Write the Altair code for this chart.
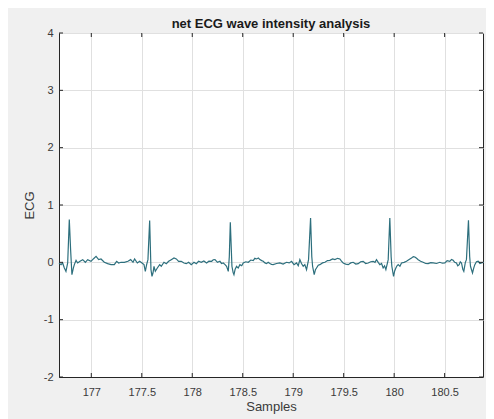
import altair as alt
import pandas as pd

# ECG trace (x in sample units, y = ECG value)
samples = [
    176.680, 176.700, 176.716, 176.733, 176.749, 176.766, 176.782, 176.795, 176.808, 176.822,
    176.832, 176.849, 176.865, 176.888, 176.915, 176.941, 176.964, 176.997, 177.020, 177.047,
    177.073, 177.096, 177.129, 177.162, 177.195, 177.228, 177.251, 177.271, 177.294, 177.327,
    177.363, 177.390, 177.413, 177.429, 177.456, 177.479, 177.502, 177.522, 177.535, 177.548,
    177.561, 177.578, 177.591, 177.601, 177.611, 177.621, 177.634, 177.654, 177.677, 177.693,
    177.720, 177.743, 177.766, 177.792, 177.819, 177.842, 177.865, 177.891, 177.918, 177.941,
    177.964, 177.990, 178.017, 178.040, 178.063, 178.089, 178.115, 178.142, 178.165, 178.192,
    178.208, 178.225, 178.250, 178.274, 178.290, 178.307, 178.325, 178.340, 178.357, 178.367,
    178.377, 178.393, 178.405, 178.413, 178.425, 178.439, 178.455, 178.472, 178.490, 178.505,
    178.530, 178.555, 178.580, 178.604, 178.620, 178.637, 178.655, 178.670, 178.688, 178.703,
    178.720, 178.736, 178.752, 178.769, 178.785, 178.802, 178.835, 178.868, 178.900, 178.934,
    178.960, 178.984, 179.008, 179.033, 179.050, 179.066, 179.082, 179.099, 179.115, 179.132,
    179.152, 179.172, 179.184, 179.192, 179.208, 179.220, 179.231, 179.248, 179.264, 179.290,
    179.314, 179.340, 179.363, 179.390, 179.413, 179.440, 179.462, 179.478, 179.495, 179.520,
    179.545, 179.570, 179.594, 179.620, 179.644, 179.668, 179.693, 179.718, 179.743, 179.768,
    179.792, 179.810, 179.825, 179.842, 179.858, 179.875, 179.891, 179.905, 179.918, 179.941,
    179.957, 179.970, 179.977, 179.994, 180.005, 180.017, 180.028, 180.040, 180.057, 180.073,
    180.098, 180.122, 180.148, 180.172, 180.190, 180.205, 180.222, 180.238, 180.262, 180.287,
    180.312, 180.337, 180.362, 180.386, 180.420, 180.452, 180.478, 180.502, 180.525, 180.551,
    180.568, 180.584, 180.600, 180.617, 180.630, 180.644, 180.655, 180.667, 180.680, 180.690,
    180.705, 180.716, 180.736, 180.748, 180.756, 180.776, 180.788, 180.799, 180.815, 180.832,
    180.850, 180.865, 180.888,
]
ecg = [
    -0.011, -0.040, -0.011, -0.098, -0.157, -0.011, 0.745, 0.221, -0.215, -0.100,
    -0.040, 0.035, -0.011, 0.018, 0.047, 0.001, 0.047, 0.018, 0.059, 0.104,
    0.047, 0.059, 0.001, -0.023, -0.040, -0.040, 0.018, -0.011, 0.001, 0.001,
    0.018, 0.047, 0.001, 0.059, -0.011, 0.018, -0.011, -0.040, -0.157, -0.040,
    0.047, 0.730, -0.128, -0.244, -0.186, -0.069, -0.157, -0.098, -0.040, -0.069,
    0.001, -0.023, 0.018, 0.047, 0.076, 0.059, 0.018, 0.018, -0.011, -0.023,
    0.001, -0.040, 0.001, -0.023, 0.018, 0.001, 0.025, -0.011, 0.020, 0.018,
    0.045, 0.047, 0.000, 0.018, -0.020, -0.011, -0.040, -0.069, -0.157, 0.100,
    0.699, -0.069, -0.180, -0.215, -0.120, -0.069, -0.100, -0.040, -0.060, -0.011,
    0.010, 0.001, 0.040, 0.030, 0.070, 0.059, 0.075, 0.047, 0.030, 0.018,
    -0.010, -0.023, 0.000, -0.020, -0.035, -0.040, -0.020, -0.011, -0.030, 0.001,
    -0.010, 0.018, -0.040, -0.011, -0.060, 0.047, -0.020, -0.069, -0.040, -0.127,
    0.047, 0.774, 0.100, -0.069, -0.215, -0.130, -0.098, -0.050, -0.040, -0.010,
    0.001, 0.030, 0.035, 0.060, 0.047, 0.070, 0.059, 0.020, -0.011, -0.030,
    -0.040, -0.010, 0.001, -0.030, -0.023, 0.010, 0.018, -0.020, -0.011, 0.010,
    0.018, 0.000, 0.047, 0.000, -0.040, -0.020, -0.098, -0.060, -0.127, 0.047,
    0.774, 0.100, -0.069, -0.244, -0.150, -0.098, -0.060, -0.040, -0.070, -0.011,
    0.000, 0.018, 0.050, 0.076, 0.100, 0.094, 0.070, 0.047, 0.020, 0.001,
    -0.020, -0.023, -0.005, -0.011, -0.020, 0.001, -0.015, -0.011, 0.030, 0.018,
    0.050, 0.035, 0.000, -0.011, -0.060, -0.040, 0.010, -0.011, -0.120, -0.157,
    0.000, 0.047, 0.734, 0.100, -0.069, -0.186, -0.100, -0.040, 0.010, 0.018,
    -0.020, -0.011, 0.001,
]

x_ticks = [177, 177.5, 178, 178.5, 179, 179.5, 180, 180.5]
y_ticks = [-2, -1, 0, 1, 2, 3, 4]
x_domain = [176.68, 180.88]
y_domain = [-2, 4]

df = pd.DataFrame({"Samples": samples, "ECG": ecg})
xt = pd.DataFrame({"t": x_ticks})
yt = pd.DataFrame({"t": y_ticks})

W, H = 424, 344
AX = "#262626"
FONT = "Liberation Sans"

xs = alt.Scale(domain=x_domain, nice=False, zero=False)
ys = alt.Scale(domain=y_domain, nice=False, zero=False)

line = alt.Chart(df).mark_line(color="#2d6f7d", strokeWidth=1.2).encode(
    x=alt.X("Samples:Q", scale=xs, title="Samples",
            axis=alt.Axis(values=x_ticks, labelExpr="'' + datum.value", grid=True,
                          ticks=False, labelPadding=9, titlePadding=3)),
    y=alt.Y("ECG:Q", scale=ys, title="ECG",
            axis=alt.Axis(values=y_ticks, labelExpr="'' + datum.value", grid=True,
                          ticks=False, labelPadding=6, titlePadding=7)),
)

tick_len = 4
xb = alt.Chart(xt).mark_rule(color=AX, strokeWidth=1).encode(
    x=alt.X("t:Q", scale=xs), y=alt.value(H), y2=alt.value(H - tick_len))
xtop = alt.Chart(xt).mark_rule(color=AX, strokeWidth=1).encode(
    x=alt.X("t:Q", scale=xs), y=alt.value(0), y2=alt.value(tick_len))
yl = alt.Chart(yt).mark_rule(color=AX, strokeWidth=1).encode(
    y=alt.Y("t:Q", scale=ys), x=alt.value(0), x2=alt.value(tick_len))
yr = alt.Chart(yt).mark_rule(color=AX, strokeWidth=1).encode(
    y=alt.Y("t:Q", scale=ys), x=alt.value(W), x2=alt.value(W - tick_len))

chart = alt.layer(line, xb, xtop, yl, yr).properties(
    width=W, height=H,
    background="#f0f0f0",
    padding={"left": 51, "top": 25, "right": 3, "bottom": 42},
    autosize=alt.AutoSizeParams(type="none"),
    title=alt.Title("net ECG wave intensity analysis", font=FONT, fontSize=13,
                    fontWeight="bold", color="#1a1a1a", offset=-4, anchor="middle"),
).configure_view(
    fill="white", stroke=AX, strokeWidth=1,
).configure_axis(
    labelFont=FONT, titleFont=FONT, labelFontSize=11, titleFontSize=13,
    labelColor="#3a3a3a", titleColor="#3a3a3a", titleFontWeight="normal",
    gridColor="#e0e0e0", gridWidth=1, domainColor=AX, domainWidth=1,
)

chart.save("out.html", embed_options={"renderer": "svg", "actions": False})
